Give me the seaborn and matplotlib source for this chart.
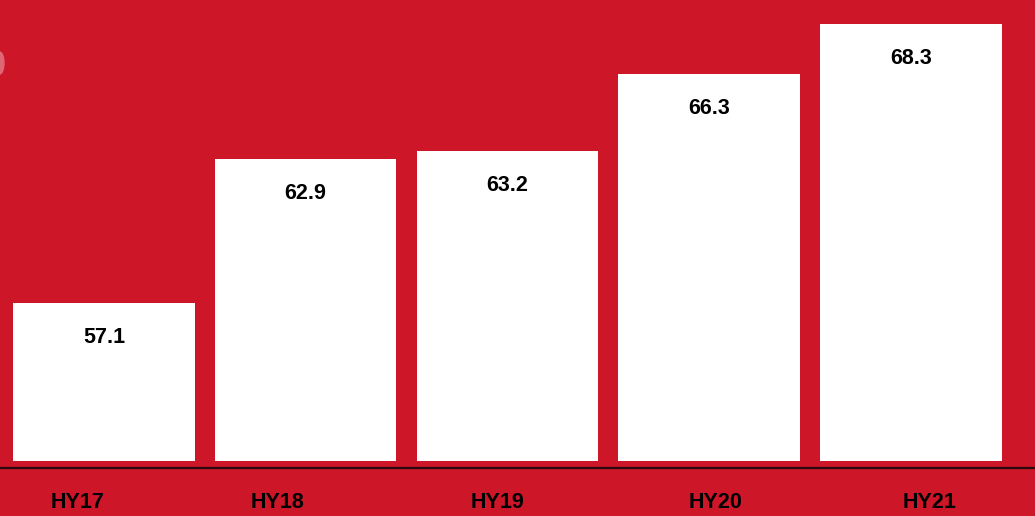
import matplotlib
matplotlib.use("Agg")
import matplotlib.pyplot as plt
import seaborn as sns
from matplotlib.patches import Ellipse

categories = ["HY17", "HY18", "HY19", "HY20", "HY21"]
values = [57.1, 62.9, 63.2, 66.3, 68.3]
value_labels = ["57.1", "62.9", "63.2", "66.3", "68.3"]
# horizontal offsets of the tick labels relative to bar centers (category units)
label_shift = [-0.13, -0.14, -0.05, 0.03, 0.09]

RED = "#CD1729"
sns.set_theme(style="white")
plt.rcParams["font.family"] = ["Liberation Sans", "DejaVu Sans"]

fig = plt.figure(figsize=(10.35, 5.16), dpi=100, facecolor=RED)
ax = fig.add_axes([0, 55 / 516, 1, 461 / 516])
ax.set_facecolor(RED)

sns.barplot(x=categories, y=values, color="white", saturation=1, width=0.9, ax=ax)
for p in ax.patches:
    p.set_edgecolor("none")

ax.set_ylim(50.77, 69.26)
ax.set_xlim(-0.515, 4.615)

for i, (v, lab) in enumerate(zip(values, value_labels)):
    ax.annotate(lab, (i, v), xytext=(0, -25), textcoords="offset points",
                ha="center", va="center", fontsize=15.5, fontweight="bold", color="black")

for s in ["top", "left", "right"]:
    ax.spines[s].set_visible(False)
ax.spines["bottom"].set_position(("outward", 5))
ax.spines["bottom"].set_color("#2a0a0c")
ax.spines["bottom"].set_linewidth(1.6)
ax.set_yticks([])
ax.set_xticks([i + d for i, d in enumerate(label_shift)])
ax.set_xticklabels(categories, fontsize=15.5, fontweight="bold", color="black")
ax.tick_params(axis="x", length=0, pad=17.5)
ax.set_xlabel("")
ax.set_ylabel("")

fig.patches.append(Ellipse((0, 1 - 63 / 516), 0.009, 0.045, transform=fig.transFigure,
                           facecolor="white", alpha=0.35, edgecolor="none"))

fig.savefig("out.png", dpi=100, facecolor=RED)
